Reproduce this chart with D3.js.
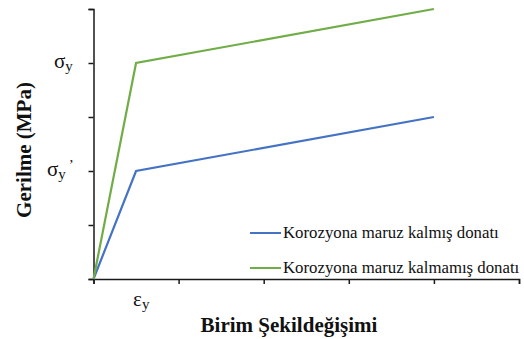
<!DOCTYPE html>
<html>
<head>
<meta charset="utf-8">
<script src="https://cdn.jsdelivr.net/npm/d3@7"></script>
</head>
<body style="margin:0;background:#fff">
<svg id="chart" width="524" height="339"></svg>
<script>
// Idealised bilinear stress-strain curves
const seriesNames = ["Korozyona maruz kalmış donatı", "Korozyona maruz kalmamış donatı"];
const seriesColors = ["#4472C4", "#70AD47"];
const strainCorroded = [0, 0.5, 4];
const stressCorroded = [0, 2, 3];
const strainIntact = [0, 0.5, 4];
const stressIntact = [0, 4, 5];
const xTicks = [0, 1, 2, 3, 4, 5];
const yTicks = [0, 1, 2, 3, 4, 5];
const yLabels = [{ v: 4, sub: "y", prime: false }, { v: 2, sub: "y", prime: true }];
const xLabels = [{ v: 0.5, sub: "y" }];

const svg = d3.select("#chart");
const x = d3.scaleLinear().domain([0, 5]).range([93.5, 519]);
const y = d3.scaleLinear().domain([0, 5]).range([279, 9]);

const axisColor = "#1a1a1a";
const serif = "'Liberation Serif'";

// x axis
const gx = svg.append("g").attr("transform", `translate(0,${y(0)})`)
  .call(d3.axisBottom(x).tickValues(xTicks).tickSize(5).tickFormat(""));
// y axis
const gy = svg.append("g").attr("transform", `translate(${x(0)},0)`)
  .call(d3.axisLeft(y).tickValues(yTicks).tickSize(5).tickFormat(""));
[gx, gy].forEach(g => {
  g.select(".domain").attr("stroke", axisColor).attr("stroke-width", 1.5);
  g.selectAll(".tick line").attr("stroke", axisColor).attr("stroke-width", 1.5);
});

// curves
const line = d3.line().x(d => x(d[0])).y(d => y(d[1]));
const curves = [
  d3.zip(strainCorroded, stressCorroded),
  d3.zip(strainIntact, stressIntact)
];
curves.forEach((pts, i) => {
  svg.append("path").datum(pts)
    .attr("d", line)
    .attr("fill", "none")
    .attr("stroke", seriesColors[i])
    .attr("stroke-width", 2.2)
    .attr("stroke-linejoin", "miter");
});

// symbolic y labels (yield stress), right-aligned against the axis
yLabels.forEach(l => {
  const t = svg.append("text")
    .style("font-family", serif)
    .attr("x", l.prime ? 47 : 54).attr("y", y(l.v) + 5)
    .attr("font-size", 21).attr("fill", "#111");
  t.append("tspan").text("σ");
  t.append("tspan").attr("font-size", 15).attr("dy", 3).text(l.sub);
  if (l.prime) t.append("tspan").attr("font-size", 15).attr("dx", 3).attr("dy", -9).text("’");
});

// symbolic x label (yield strain)
xLabels.forEach(l => {
  const t = svg.append("text")
    .style("font-family", serif)
    .attr("x", x(l.v) - 3).attr("y", 306)
    .attr("font-size", 21).attr("fill", "#111");
  t.append("tspan").text("ε");
  t.append("tspan").attr("font-size", 15).attr("dy", 3).text(l.sub);
});

// axis titles
svg.append("text")
  .style("font-family", serif)
  .attr("x", 289).attr("y", 332)
  .attr("text-anchor", "middle")
  .attr("font-size", 21).attr("font-weight", "bold").attr("fill", "#111")
  .text("Birim Şekildeğişimi");
svg.append("text")
  .style("font-family", serif)
  .attr("transform", `translate(31,150) rotate(-90)`)
  .attr("text-anchor", "middle")
  .attr("font-size", 21).attr("font-weight", "bold").attr("fill", "#111")
  .text("Gerilme (MPa)");

// legend
const legend = svg.append("g");
seriesNames.forEach((name, i) => {
  const ly = 233 + i * 35;
  legend.append("line")
    .attr("x1", 250).attr("x2", 281).attr("y1", ly).attr("y2", ly)
    .attr("stroke", seriesColors[i]).attr("stroke-width", 2);
  legend.append("text")
    .style("font-family", serif)
    .attr("x", 283).attr("y", ly + 5)
    .attr("font-size", 16.8).attr("fill", "#111")
    .text(name);
});
</script>
</body>
</html>
